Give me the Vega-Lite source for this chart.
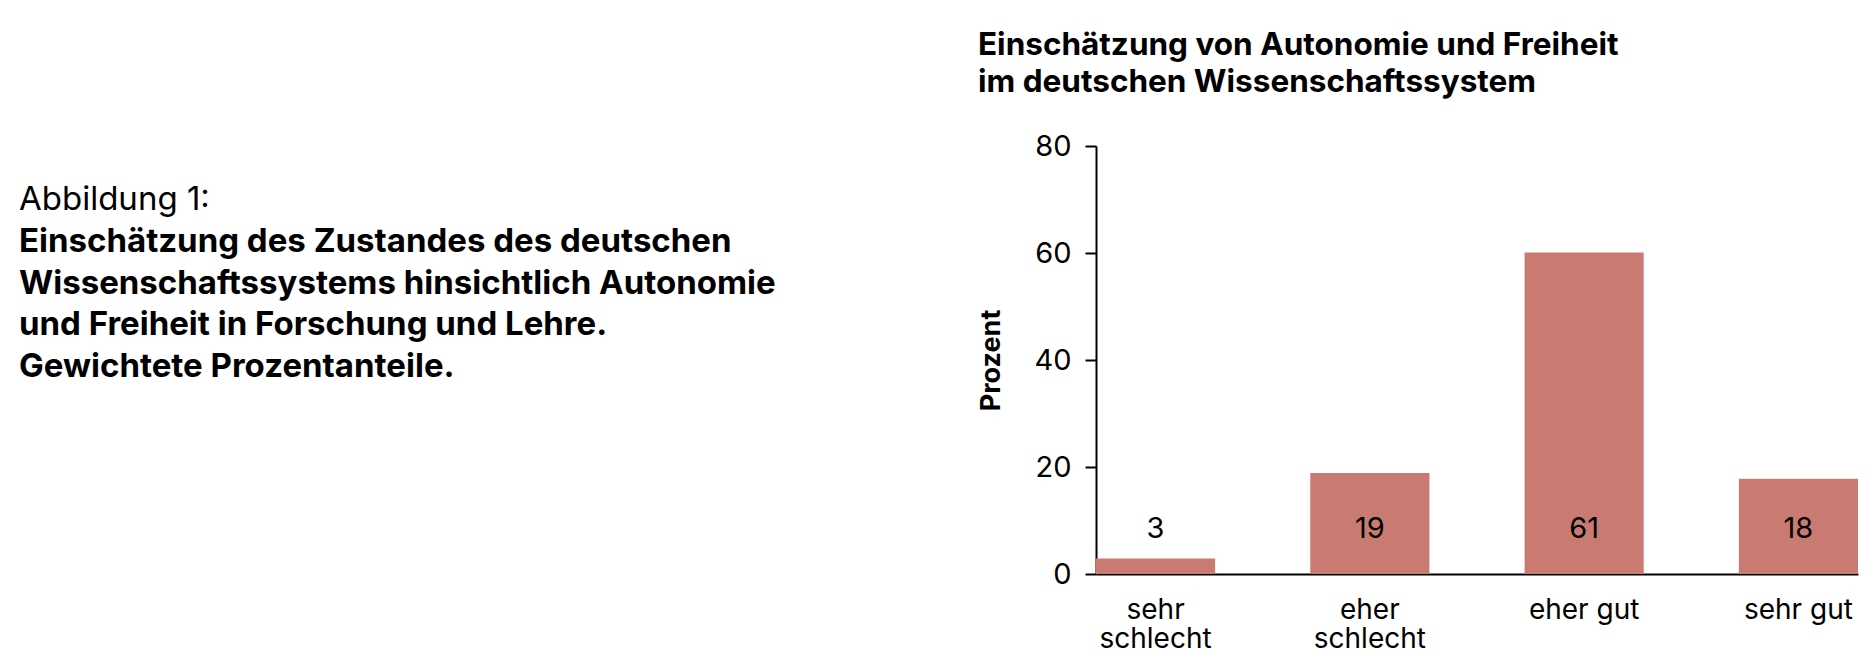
{
  "$schema": "https://vega.github.io/schema/vega-lite/v6.json",
  "background": "white",
  "padding": {"left": 19, "top": 29, "right": 10, "bottom": 5},
  "bounds": "flush",
  "spacing": 317,
  "config": {
    "view": {"stroke": null},
    "font": "Inter",
    "axis": {"labelColor": "#000", "titleColor": "#000", "domainColor": "#000", "tickColor": "#000", "grid": false},
    "title": {"color": "#000"}
  },
  "hconcat": [
    {
      "width": 760,
      "height": 428,
      "data": {"values": [
        {"zeile": 1, "text": "Abbildung 1:", "fett": false},
        {"zeile": 2, "text": "Einschätzung des Zustandes des deutschen", "fett": true},
        {"zeile": 3, "text": "Wissenschaftssystems hinsichtlich Autonomie", "fett": true},
        {"zeile": 4, "text": "und Freiheit in Forschung und Lehre.", "fett": true},
        {"zeile": 5, "text": "Gewichtete Prozentanteile.", "fett": true}
      ]},
      "encoding": {
        "x": {"datum": 0, "type": "quantitative", "scale": {"domain": [0, 1]}, "axis": null},
        "y": {"field": "zeile", "type": "ordinal", "scale": {"type": "point", "range": [54, 221], "padding": 0}, "axis": null},
        "text": {"field": "text"}
      },
      "layer": [
        {
          "transform": [{"filter": "!datum.fett"}],
          "mark": {"type": "text", "align": "left", "baseline": "middle", "fontSize": 33, "fontWeight": "normal", "color": "#000"}
        },
        {
          "transform": [{"filter": "datum.fett"}],
          "mark": {"type": "text", "align": "left", "baseline": "middle", "fontSize": 33, "fontWeight": "bold", "color": "#000"}
        }
      ]
    },
    {
      "width": 762,
      "height": 428,
      "title": {
        "text": ["Einschätzung von Autonomie und Freiheit", "im deutschen Wissenschaftssystem"],
        "anchor": "start",
        "frame": "bounds",
        "fontSize": 31.5,
        "fontWeight": "bold",
        "lineHeight": 37,
        "offset": 34
      },
      "data": {"values": [
        {"kategorie": "sehr schlecht", "prozent": 2.9, "label": 3},
        {"kategorie": "eher schlecht", "prozent": 18.9, "label": 19},
        {"kategorie": "eher gut", "prozent": 60.1, "label": 61},
        {"kategorie": "sehr gut", "prozent": 17.8, "label": 18}
      ]},
      "encoding": {
        "x": {
          "field": "kategorie",
          "type": "nominal",
          "sort": null,
          "scale": {"paddingInner": 0.444, "paddingOuter": 0},
          "axis": {
            "title": null,
            "labelAngle": 0,
            "ticks": false,
            "labelPadding": 22,
            "labelFontSize": 28,
            "labelLineHeight": 29,
            "labelExpr": "indexof(datum.value, 'schlecht') >= 0 ? split(datum.value, ' ') : datum.value",
            "domainWidth": 2
          }
        }
      },
      "layer": [
        {
          "mark": {"type": "bar", "color": "#c97b72"},
          "encoding": {
            "y": {
              "field": "prozent",
              "type": "quantitative",
              "scale": {"domain": [0, 80]},
              "axis": {
                "title": "Prozent",
                "titleFontSize": 27,
                "titleFontWeight": "bold",
                "titlePadding": 28,
                "values": [0, 20, 40, 60, 80],
                "tickSize": 11,
                "tickWidth": 2,
                "domainWidth": 2,
                "labelPadding": 14,
                "labelFontSize": 29
              }
            }
          }
        },
        {
          "mark": {"type": "text", "baseline": "middle", "fontSize": 29, "color": "#000"},
          "encoding": {
            "y": {"datum": 8.5, "type": "quantitative"},
            "text": {"field": "label"}
          }
        }
      ]
    }
  ]
}
